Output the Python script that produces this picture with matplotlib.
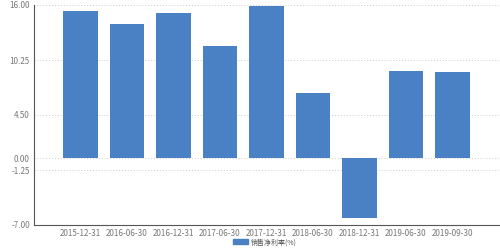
import matplotlib
matplotlib.use('Agg')
import matplotlib.pyplot as plt
from matplotlib.patches import Patch

#--- DATA ---------------------------------------------------------------------+

dates=['2015-12-31','2016-06-30','2016-12-31','2017-06-30','2017-12-31',
       '2018-06-30','2018-12-31','2019-06-30','2019-09-30']
margin=[15.36,14.0,15.15,11.7,15.9,6.8,-6.27,9.09,8.95]
yticks=[-7.0,-1.25,0.0,4.50,10.25,16.0]
series_name='销售净利率(%)'

#--- PLOT ---------------------------------------------------------------------+

plt.rcParams['font.family']=['Noto Sans CJK SC','DejaVu Sans']
fig=plt.figure(figsize=(5,2.5),dpi=100)
ax=fig.add_axes([0.068,0.1,0.93,0.88])

x=range(len(dates))
ax.bar(x,margin,width=0.75,color='#4a81c4',zorder=3)

ax.set_xlim(-1,9)
ax.set_ylim(-7,16)
ax.set_yticks(yticks)
ax.set_yticklabels(['%.2f'%v for v in yticks])
ax.set_xticks(list(x))
ax.set_xticklabels(dates)
ax.tick_params(axis='both',labelsize=5.8,colors='#777777',length=0,pad=3)
ax.grid(axis='y',linestyle=(0,(1,2)),color='#cccccc',linewidth=0.7,zorder=0)

for s in ['top','right']:
    ax.spines[s].set_visible(False)
for s in ['left','bottom']:
    ax.spines[s].set_color('#555555')
    ax.spines[s].set_linewidth(0.8)

fig.legend(handles=[Patch(color='#4a81c4',label=series_name)],loc='lower center',
           bbox_to_anchor=(0.53,-0.01),frameon=False,fontsize=5,handlelength=2.2,
           handleheight=0.8,handletextpad=0.4,labelcolor='#555555')

fig.savefig('out.png',dpi=100)
